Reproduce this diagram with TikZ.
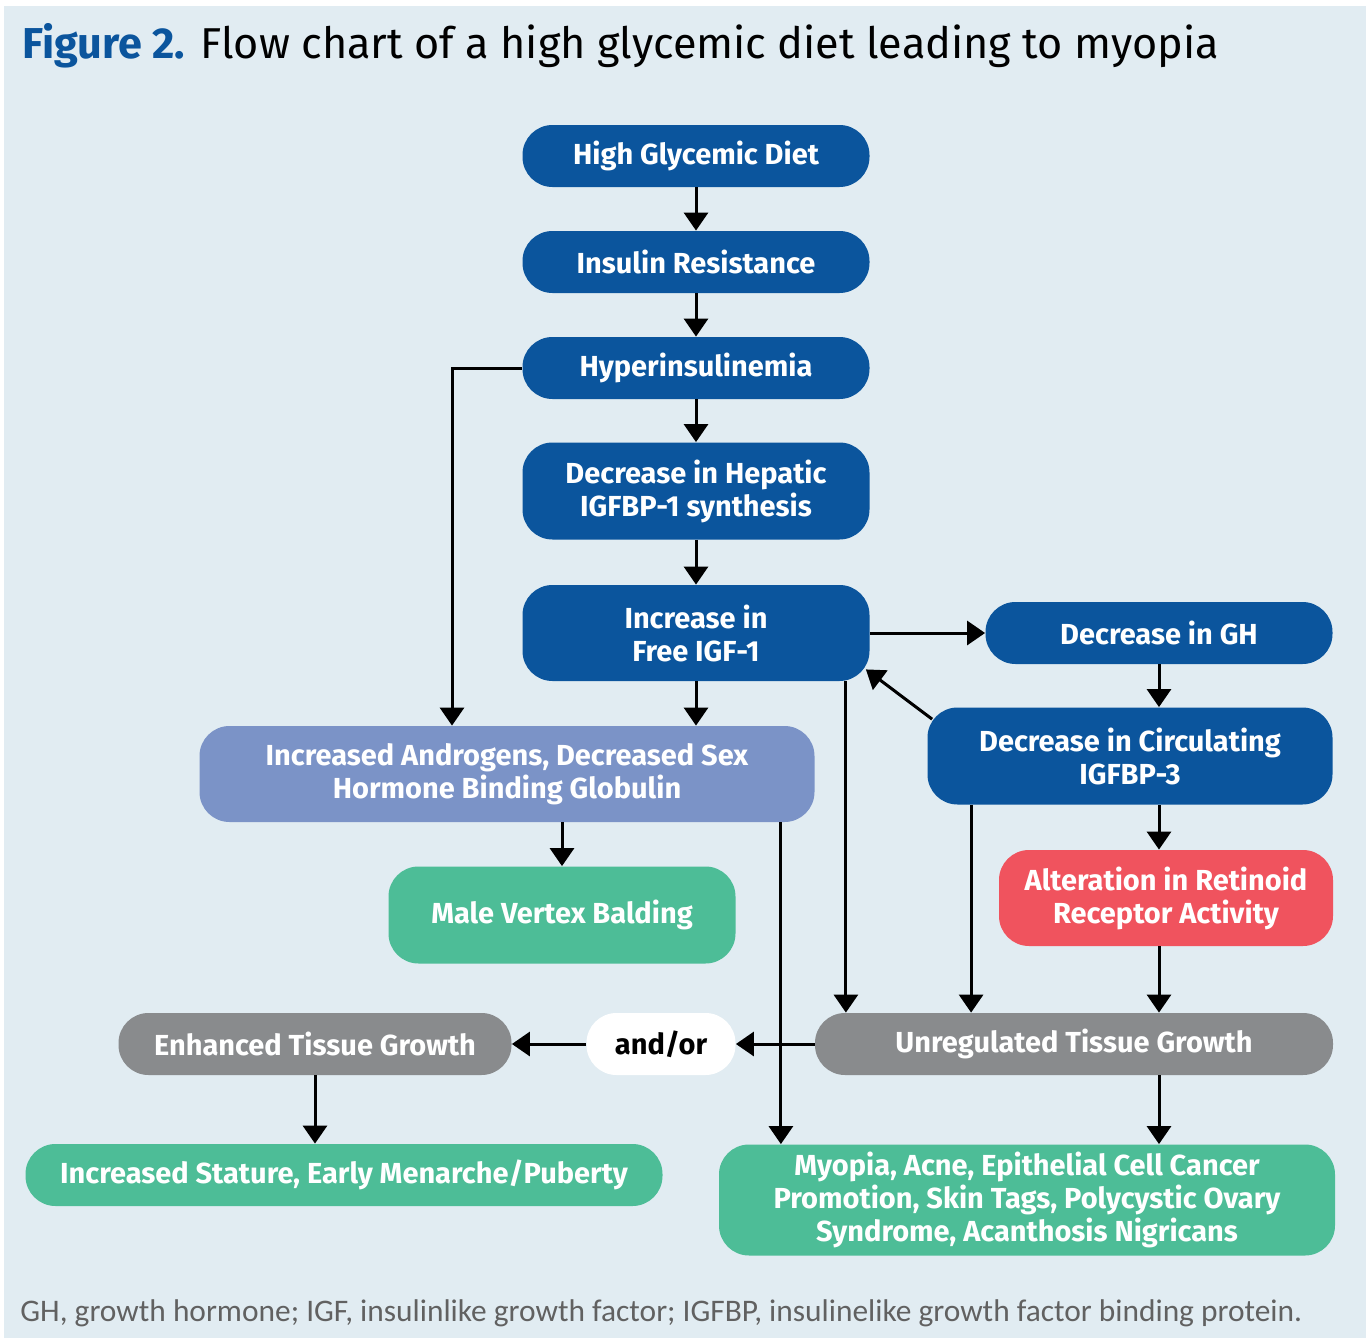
\documentclass[tikz,border=0pt]{standalone}
\usepackage{fontspec}
\setmainfont{Fira Sans}
\newfontfamily\notefont{Carlito}
\usepackage{xcolor}
\usepackage{tikz}
\usetikzlibrary{arrows.meta}
\usetikzlibrary{shapes.misc}
\definecolor{dkblue}{HTML}{0B559D}
\definecolor{periw}{HTML}{7B93C7}
\definecolor{mint}{HTML}{4DBD97}
\definecolor{slate}{HTML}{898B8D}
\definecolor{coral}{HTML}{F0535E}
\definecolor{paleblue}{HTML}{E1ECF2}

\begin{document}
\begin{tikzpicture}[x=0.5pt, y=-0.5pt,
  box/.style={rectangle, rounded corners=15pt, inner sep=0pt, align=center,
    text=white, font=\fontsize{14.5}{16.5}\selectfont\bfseries},
  arr/.style={-{Triangle[width=12pt,length=9pt]}, line width=1.5pt, black}]
 \useasboundingbox (0,0) rectangle (1372,1344);
  \fill[paleblue] (4,6) rectangle (1366,1338);
  \node[anchor=west, inner sep=0pt, font=\fontsize{21.6}{26}\selectfont] (title) at (22,46)
    {\textcolor{dkblue}{\bfseries Figure 2.} Flow chart of a high glycemic diet leading to myopia};
  \node[anchor=west, inner sep=0pt, text=black!62, font=\notefont\fontsize{15.7}{18}\selectfont] (note) at (20,1313)
    {GH, growth hormone; IGF, insulinlike growth factor; IGFBP, insulinelike growth factor binding protein.};
  % main column
  \node[box, fill=dkblue, minimum width=173.5pt, minimum height=31pt] (diet) at (696,156) {High Glycemic Diet};
  \node[box, fill=dkblue, minimum width=173.5pt, minimum height=31pt] (resist) at (696,262) {Insulin Resistance};
  \node[box, fill=dkblue, minimum width=173.5pt, minimum height=31pt] (hyper) at (696,368) {Hyperinsulinemia};
  \node[box, fill=dkblue, minimum width=173.5pt, minimum height=48.5pt] (hepatic) at (696,491) {Decrease in Hepatic\\IGFBP-1 synthesis};
  \node[box, fill=dkblue, minimum width=173.5pt, minimum height=48pt] (freeigf) at (696,633) {Increase in\\Free IGF-1};
  % right side
  \node[box, fill=dkblue, minimum width=173.5pt, minimum height=31pt] (gh) at (1159,633) {Decrease in GH};
  \node[box, fill=dkblue, minimum width=202.5pt, minimum height=48.5pt] (bpthree) at (1130,756) {Decrease in Circulating\\IGFBP-3};
  \node[box, fill=coral, minimum width=167pt, minimum height=48pt] (retinoid) at (1166,898) {Alteration in Retinoid\\Receptor Activity};
  \node[box, fill=slate, minimum width=259pt, minimum height=31pt] (unreg) at (1074,1044) {Unregulated Tissue Growth};
  % left side
  \node[box, fill=periw, minimum width=307.5pt, minimum height=48pt] (androg) at (507,774) {Increased Androgens, Decreased Sex\\Hormone Binding Globulin};
  \node[box, fill=mint, minimum width=173.5pt, minimum height=48.5pt] (balding) at (562,915) {Male Vertex Balding};
  \node[box, fill=white, text=black, minimum width=74.5pt, minimum height=31pt] (andor) at (661,1044) {and/or};
  \node[box, fill=slate, minimum width=196.5pt, minimum height=31pt] (enhanced) at (315,1044) {Enhanced Tissue Growth};
  \node[box, fill=mint, minimum width=318.5pt, minimum height=31pt] (stature) at (344,1175) {Increased Stature, Early Menarche/Puberty};
  \node[box, fill=mint, minimum width=308pt, minimum height=55.5pt] (myopia) at (1027,1200) {Myopia, Acne, Epithelial Cell Cancer\\Promotion, Skin Tags, Polycystic Ovary\\Syndrome, Acanthosis Nigricans};
  % connectors
  \draw[arr] (diet) -- (resist);
  \draw[arr] (resist) -- (hyper);
  \draw[arr] (hyper) -- (hepatic);
  \draw[arr] (hepatic) -- (freeigf);
  \draw[arr] (freeigf) -- (freeigf |- androg.north);
  \draw[arr] (hyper.west) -| ([xshift=-27.5pt]androg.north);
  \draw[arr] (freeigf.east) -- (gh.west);
  \draw[arr] (gh) -- (gh |- bpthree.north);
  \draw[arr] ([shift={(5,12)}]bpthree.north west) -- ([shift={(-4,-12)}]freeigf.south east);
  \draw[arr] (bpthree.south -| gh) -- (retinoid.north -| gh);
  \draw[arr] (retinoid.south -| gh) -- (unreg.north -| gh);
  \draw[arr] ([xshift=22pt]bpthree.south west) -- ([xshift=22pt]bpthree.south west |- unreg.north);
  \draw[arr] ([xshift=-12pt]freeigf.south east) -- ([xshift=-12pt]freeigf.south east |- unreg.north);
  \draw[arr] (androg.south -| balding) -- (balding);
  \draw[arr] ([xshift=-17pt]androg.south east) -- ([xshift=-17pt]androg.south east |- myopia.north);
  \draw[arr] (unreg) -- (andor);
  \draw[arr] (andor) -- (enhanced);
  \draw[arr] (enhanced) -- (enhanced |- stature.north);
  \draw[arr] (unreg.south -| gh) -- (myopia.north -| gh);
 \end{tikzpicture}
\end{document}
